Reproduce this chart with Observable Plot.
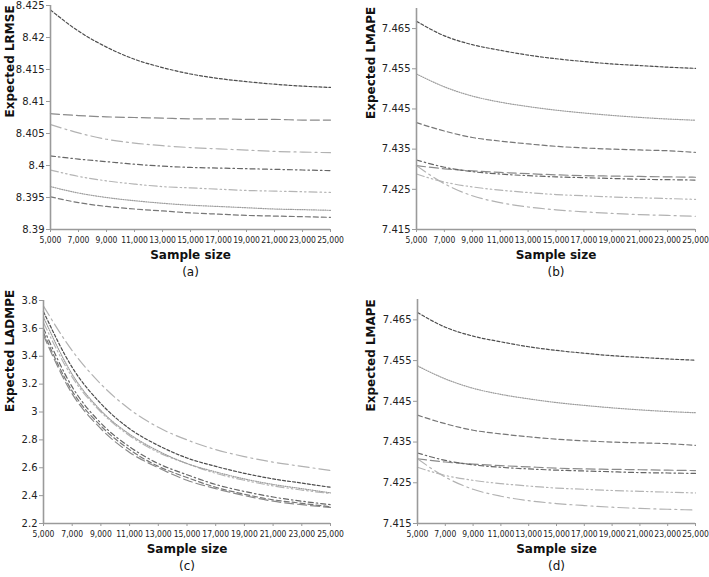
<!DOCTYPE html>
<html>
<head>
<meta charset="utf-8">
<script src="https://cdn.jsdelivr.net/npm/d3@7"></script>
<script src="https://cdn.jsdelivr.net/npm/@observablehq/plot@0.6"></script>
<style>
  html, body { margin: 0; padding: 0; background: #fff; }
  #wrap { position: relative; width: 709px; height: 577px; overflow: hidden; font-family: "DejaVu Sans", Verdana, sans-serif; }
  .panel { position: absolute; }
  .xax text { font-family: "DejaVu Sans Condensed", "Liberation Sans Narrow", "DejaVu Sans", sans-serif; }
</style>
</head>
<body>
<div id="wrap">
  <div class="panel" id="pa" style="left:0px;top:0px"></div>
  <div class="panel" id="pb" style="left:354px;top:0px"></div>
  <div class="panel" id="pc" style="left:0px;top:290px"></div>
  <div class="panel" id="pd" style="left:354px;top:290px"></div>
</div>
<script>
// ---- data ----
const sampleSizes = [5000, 7000, 9000, 11000, 13000, 15000, 17000, 19000, 21000, 23000, 25000];
const xTickValues = [5000, 7000, 9000, 11000, 13000, 15000, 17000, 19000, 21000, 23000, 25000];

// panel (a) Expected LRMSE, 7 series
const lrmse = [
  [8.4243, 8.4210, 8.4185, 8.4166, 8.4153, 8.4143, 8.4136, 8.4131, 8.4127, 8.4124, 8.4122],
  [8.4081, 8.4078, 8.4076, 8.4075, 8.4074, 8.4073, 8.4073, 8.4072, 8.4072, 8.4071, 8.4071],
  [8.4064, 8.4051, 8.4041, 8.4035, 8.4031, 8.4028, 8.4026, 8.4024, 8.4022, 8.4021, 8.4020],
  [8.4015, 8.4010, 8.4006, 8.4002, 8.3999, 8.3997, 8.3996, 8.3995, 8.3994, 8.3993, 8.3992],
  [8.3993, 8.3983, 8.3976, 8.3971, 8.3967, 8.3965, 8.3963, 8.3961, 8.3960, 8.3959, 8.3958],
  [8.3967, 8.3957, 8.3950, 8.3945, 8.3941, 8.3938, 8.3936, 8.3934, 8.3932, 8.3931, 8.3930],
  [8.3951, 8.3942, 8.3936, 8.3932, 8.3929, 8.3926, 8.3924, 8.3922, 8.3921, 8.3920, 8.3919]
];
const lrmseTicks = ["8.39", "8.395", "8.4", "8.405", "8.41", "8.415", "8.42", "8.425"];

// panels (b) and (d) Expected LMAPE, 7 series
const lmape = [
  [7.4668, 7.4632, 7.4610, 7.4596, 7.4584, 7.4575, 7.4568, 7.4562, 7.4558, 7.4554, 7.4551],
  [7.4309, 7.4301, 7.4296, 7.4292, 7.4289, 7.4286, 7.4284, 7.4283, 7.4282, 7.4281, 7.4280],
  [7.4309, 7.4264, 7.4234, 7.4217, 7.4206, 7.4199, 7.4194, 7.4190, 7.4187, 7.4185, 7.4183],
  [7.4323, 7.4305, 7.4294, 7.4288, 7.4284, 7.4281, 7.4279, 7.4277, 7.4275, 7.4274, 7.4273],
  [7.4288, 7.4268, 7.4256, 7.4248, 7.4242, 7.4237, 7.4234, 7.4231, 7.4229, 7.4227, 7.4225],
  [7.4537, 7.4505, 7.4482, 7.4467, 7.4456, 7.4447, 7.4440, 7.4434, 7.4429, 7.4425, 7.4422],
  [7.4416, 7.4395, 7.4379, 7.4370, 7.4363, 7.4357, 7.4353, 7.4350, 7.4348, 7.4346, 7.4342]
];
const lmapeTicks = ["7.415", "7.425", "7.435", "7.445", "7.455", "7.465"];

// panel (c) Expected LADMPE, 7 series
const ladmpe = [
  [3.72, 3.32, 3.06, 2.88, 2.76, 2.67, 2.61, 2.56, 2.52, 2.49, 2.46],
  [3.55, 3.13, 2.88, 2.71, 2.60, 2.51, 2.45, 2.40, 2.36, 2.335, 2.315],
  [3.76, 3.44, 3.20, 3.02, 2.89, 2.80, 2.73, 2.68, 2.64, 2.61, 2.58],
  [3.60, 3.18, 2.92, 2.75, 2.63, 2.55, 2.48, 2.43, 2.39, 2.36, 2.335],
  [3.64, 3.25, 3.00, 2.83, 2.71, 2.63, 2.56, 2.51, 2.47, 2.44, 2.415],
  [3.68, 3.27, 3.01, 2.84, 2.72, 2.63, 2.57, 2.52, 2.48, 2.45, 2.42],
  [3.57, 3.15, 2.90, 2.73, 2.61, 2.53, 2.46, 2.41, 2.37, 2.345, 2.32]
];
const ladmpeTicks = ["2.2", "2.4", "2.6", "2.8", "3", "3.2", "3.4", "3.6", "3.8"];

// series styles
const seriesColors = ["#4d4d4d", "#8a8a8a", "#b2b2b2", "#666666", "#b5b5b5", "#9e9e9e", "#777777"];
const seriesDashes = ["3,2", "9,4", "11,4,2,4", "5,3,1.5,3", "8,3,1.5,3,1.5,3", "1,1.3", "5,3"];

function panel(el, opts) {
  const {values, ticks, yDomain, title, caption, width, height, ml, mr, mt, mb, titleDx} = opts;
  const tickNums = ticks.map(Number);
  const labelOf = new Map(tickNums.map((t, i) => [t, ticks[i]]));
  const marks = [];
  values.forEach((series, i) => {
    const rows = sampleSizes.map((n, j) => ({n, v: series[j]}));
    marks.push(Plot.line(rows, {
      x: "n", y: "v", curve: "monotone-x",
      stroke: seriesColors[i], strokeWidth: 1.2, strokeDasharray: seriesDashes[i]
    }));
  });
  marks.push(
    Plot.ruleX([sampleSizes[0]], {stroke: "#9a9a9a", strokeWidth: 1.6}),
    Plot.ruleY([yDomain[0]], {stroke: "#9a9a9a", strokeWidth: 1.6}),
    Plot.axisY({ticks: tickNums, tickFormat: d => labelOf.get(d), tickSize: 4, tickPadding: 2,
      stroke: "#9a9a9a", fill: "#222", fontSize: 10, label: null}),
    Plot.axisX({ticks: xTickValues, tickFormat: d3.format(","), tickSize: 3, tickPadding: 4,
      stroke: "#9a9a9a", fill: "#222", fontSize: 8.5, label: null, className: "xax"}),
    Plot.text([title], {frameAnchor: "left", rotate: -90, dx: titleDx, fontSize: 12, fontWeight: "bold", fill: "#111"}),
    Plot.text(["Sample size"], {frameAnchor: "bottom", dy: 29, fontSize: 12, fontWeight: "bold", fill: "#111"}),
    Plot.text([caption], {frameAnchor: "bottom", dy: 46, fontSize: 12, fill: "#111"})
  );
  const chart = Plot.plot({
    width, height,
    marginLeft: ml, marginRight: mr, marginTop: mt, marginBottom: mb,
    style: {fontFamily: "DejaVu Sans, Verdana, sans-serif", background: "white", overflow: "visible"},
    x: {domain: [sampleSizes[0], sampleSizes[sampleSizes.length - 1]]},
    y: {domain: yDomain},
    marks
  });
  document.getElementById(el).appendChild(chart);
}

panel("pa", {values: lrmse, ticks: lrmseTicks, yDomain: [8.39, 8.425], title: "Expected LRMSE", caption: "(a)",
  width: 354, height: 290, ml: 50, mr: 24, mt: 5, mb: 61, titleDx: -40});
panel("pb", {values: lmape, ticks: lmapeTicks, yDomain: [7.415, 7.47], title: "Expected LMAPE", caption: "(b)",
  width: 355, height: 290, ml: 62, mr: 14, mt: 8, mb: 61, titleDx: -45});
panel("pc", {values: ladmpe, ticks: ladmpeTicks, yDomain: [2.2, 3.8], title: "Expected LADMPE", caption: "(c)",
  width: 354, height: 287, ml: 43, mr: 24, mt: 10, mb: 54, titleDx: -33});
panel("pd", {values: lmape, ticks: lmapeTicks, yDomain: [7.415, 7.47], title: "Expected LMAPE", caption: "(d)",
  width: 355, height: 287, ml: 63, mr: 14, mt: 9, mb: 54, titleDx: -46});
</script>
</body>
</html>
